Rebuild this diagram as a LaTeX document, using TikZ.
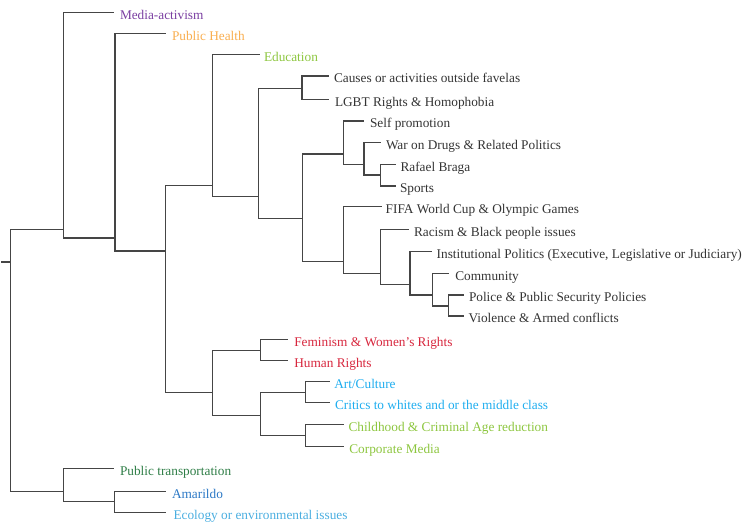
\documentclass[tikz,border=0pt]{standalone}
\usepackage{fontspec}
\setmainfont{Liberation Serif}
\definecolor{cPurple}{HTML}{7A3EA1}
\definecolor{cOrange}{HTML}{F9AE4F}
\definecolor{cLime}{HTML}{8DC63F}
\definecolor{cRed}{HTML}{D7263D}
\definecolor{cCyan}{HTML}{1EADEF}
\definecolor{cDGreen}{HTML}{2E7D46}
\definecolor{cBlue}{HTML}{2B78C5}
\definecolor{cLBlue}{HTML}{4AAEE0}
\definecolor{cText}{HTML}{333333}
\definecolor{cLine}{HTML}{454545}
\begin{document}
\begin{tikzpicture}[x=1pt,y=-1pt,
  branch/.style={draw=cLine,line width=1.5pt,line cap=rect},
  leaf/.style={anchor=base west,inner sep=0pt,outer sep=0pt,font=\fontsize{13.3}{16}\selectfont,text=cText}]
\useasboundingbox (0,0) rectangle (744,524);
% internal nodes: top and bottom of verticals
\foreach \n/\x/\t/\b in {R0/10.7/229.3/491.3, A/63.3/12.7/238, B/115/33.5/251, C/165.7/185.3/392.3,
  D/212.7/54.5/196.7, E/258.7/88.7/218.3, F/302/76/99.5, G/302.5/154/261.7, H/343.3/121/164.3,
  I/364/142.7/175, J/380.7/164.3/186, K/343.3/206.7/273.3, L/380.7/229.3/284.3, M/410/251.7/295,
  N/432.7/273.3/306, O/448.3/295/316, P/212.7/350.3/415.7, Q/260.7/339.3/360.7, R/260.7/392.3/435.7,
  S/305.7/381.7/402.7, T/305.7/424.7/446.7, U/63.3/468.7/501.3, V/114.7/491.3/512.7}
  {\coordinate (\n t) at (\x,\t); \coordinate (\n b) at (\x,\b);}
% leaf line ends and labels
\foreach \i/\ex/\y/\tx/\col/\txt in {
  1/113.3/12.7/120/cPurple/Media-activism,
  2/165/33.5/172/cOrange/Public Health,
  3/259/54.5/264/cLime/Education,
  4/328/76/334/cText/Causes or activities outside favelas,
  5/328/99.5/335/cText/LGBT Rights \& Homophobia,
  6/363/121/370/cText/Self promotion,
  7/380/142.7/386/cText/War on Drugs \& Related Politics,
  8/395/164.3/400.5/cText/Rafael Braga,
  9/395/186/400/cText/Sports,
  10/381.7/206.7/385.7/cText/FIFA World Cup \& Olympic Games,
  11/408/229.3/414/cText/Racism \& Black people issues,
  12/431.7/251.7/436.7/cText/{Institutional Politics (Executive, Legislative or Judiciary)},
  13/448.3/273.3/455.3/cText/Community,
  14/463.3/295/469/cText/Police \& Public Security Policies,
  15/463.3/316/468.5/cText/Violence \& Armed conflicts,
  16/287.7/339.3/294.3/cRed/Feminism \& Women’s Rights,
  17/287.7/360.7/294.3/cRed/Human Rights,
  18/329.3/381.7/334.3/cCyan/{Art/Culture},
  19/329.3/402.7/335/cCyan/Critics to whites and or the middle class,
  20/343.3/424.7/348.5/cLime/Childhood \& Criminal Age reduction,
  21/343.3/446.7/349.3/cLime/Corporate Media,
  22/113.3/468.7/120/cDGreen/Public transportation,
  23/165.3/491.3/172/cBlue/Amarildo,
  24/165.3/512.7/173.5/cLBlue/Ecology or environmental issues}
  {\coordinate (e\i) at (\ex,\y);
   \node[leaf,text=\col] (t\i) at (\tx,\y+6.8) {\txt};}
\coordinate (rs) at (2,262);
% verticals
\foreach \n in {R0,A,B,C,D,E,F,G,H,I,J,K,L,M,N,O,P,Q,R,S,T,U,V}
  \draw[branch] (\n t) -- (\n b);
% root stub
\draw[branch] (rs) -- (R0t |- rs);
% internal-to-internal horizontals
\foreach \p/\c in {R0t/A, R0b/U, Ab/B, Bb/C, Ct/D, Cb/P, Db/E, Et/F, Eb/G, Gt/H, Gb/K,
  Hb/I, Ib/J, Kb/L, Lb/M, Mb/N, Nb/O, Pt/Q, Pb/R, Rt/S, Rb/T, Ub/V}
  \draw[branch] (\p) -- (\c t |- \p);
% internal-to-leaf horizontals
\foreach \p/\l in {At/1, Bt/2, Dt/3, Ft/4, Fb/5, Ht/6, It/7, Jt/8, Jb/9, Kt/10, Lt/11, Mt/12,
  Nt/13, Ot/14, Ob/15, Qt/16, Qb/17, St/18, Sb/19, Tt/20, Tb/21, Ut/22, Vt/23, Vb/24}
  \draw[branch] (\p) -- (e\l);
\end{tikzpicture}
\end{document}
